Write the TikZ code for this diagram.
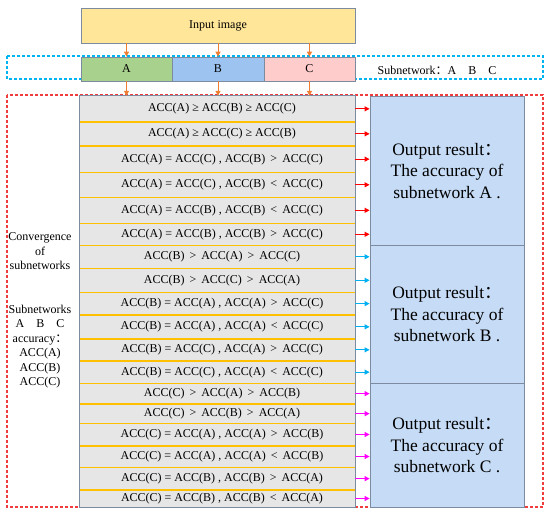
\documentclass[tikz,border=0pt]{standalone}
\usepackage{fontspec}
\setmainfont{Liberation Serif}
\newfontfamily\cjk{Noto Sans CJK SC}
\usetikzlibrary{arrows.meta}
\definecolor{bordc}{HTML}{7D8BA0}
\definecolor{inyel}{HTML}{FFE699}
\definecolor{agreen}{HTML}{A9D18E}
\definecolor{bblue}{HTML}{9DC3F0}
\definecolor{cpink}{HTML}{FFCCCC}
\definecolor{rowgray}{HTML}{E7E6E6}
\definecolor{lineor}{HTML}{FFC000}
\definecolor{outblue}{HTML}{C6DBF5}
\definecolor{arror}{HTML}{ED7D31}
\definecolor{dashblue}{HTML}{00B4F0}
\definecolor{dashred}{HTML}{F03C3C}
\definecolor{arrred}{HTML}{FF0000}
\definecolor{arrcyan}{HTML}{00B0F0}
\definecolor{arrmag}{HTML}{FF00FF}
\newcommand{\fc}{{\cjk ：}}
\newcommand{\rt}[1]{\hspace*{9pt}#1}
\tikzset{
  box/.style={draw=bordc, line width=0.8pt, inner sep=0pt, font=\fontsize{12}{14}\selectfont},
  rowbox/.style={fill=rowgray, inner sep=0pt, minimum width=275pt, font=\fontsize{12}{14}\selectfont},
  outbox/.style={draw=bordc, line width=0.8pt, fill=outblue, minimum width=154pt, inner sep=0pt, align=center, font=\fontsize{17.5}{21.5}\selectfont},
  oarrow/.style={draw=arror, fill=arror, line width=1pt, -{Triangle[length=5pt,width=5pt]}},
  rarrow/.style={line width=1pt, -{Triangle[length=5pt,width=5pt]}},
  orline/.style={draw=lineor, line width=1.5pt},
  dashbox/.style={line width=1.1pt, dash pattern=on 3pt off 2pt},
  lefttext/.style={align=center, inner sep=0pt, font=\fontsize{12}{14.5}\selectfont}
}
\begin{document}
\begin{tikzpicture}[x=1pt,y=-1pt]
\useasboundingbox (0,0) rectangle (550,518);
% dashed frames
\draw[dashbox, color=dashblue] (7,56) rectangle (543,79);
\draw[dashbox, color=dashred] (7,95) rectangle (543,507);
% input
\node[box, fill=inyel, minimum width=274pt, minimum height=35pt] (in) at (218,25.5) {Input image};
\node[box, fill=agreen, minimum width=91pt, minimum height=24pt] (A) at (126.5,69) {A};
\node[box, fill=bblue, minimum width=92pt, minimum height=24pt] (B) at (218,69) {B};
\node[box, fill=cpink, minimum width=91pt, minimum height=24pt] (C) at (309.5,69) {C};
\node[font=\fontsize{12}{14}\selectfont, inner sep=0pt] (lbl) at (437,70) {Subnetwork\fc A\quad B\quad C};
% rows
\node[rowbox, minimum height=25.7pt] (r1) at (217.5,108.85) {\rt{ACC(A) ≥ ACC(B) ≥ ACC(C)}};
\node[rowbox, minimum height=24.3pt] (r2) at (217.5,133.85) {\rt{ACC(A) ≥ ACC(C) ≥ ACC(B)}};
\node[rowbox, minimum height=26.3pt] (r3) at (217.5,159.15) {\rt{ACC(A) = ACC(C) , ACC(B) \,>\, ACC(C)}};
\node[rowbox, minimum height=25pt] (r4) at (217.5,184.8) {\rt{ACC(A) = ACC(C) , ACC(B) \,<\, ACC(C)}};
\node[rowbox, minimum height=26pt] (r5) at (217.5,210.3) {\rt{ACC(A) = ACC(B) , ACC(B) \,<\, ACC(C)}};
\node[rowbox, minimum height=22pt] (r6) at (217.5,234.3) {\rt{ACC(A) = ACC(B) , ACC(B) \,>\, ACC(C)}};
\node[rowbox, minimum height=23pt] (r7) at (217.5,256.8) {\rt{ACC(B) \,>\, ACC(A) \,>\, ACC(C)}};
\node[rowbox, minimum height=24pt] (r8) at (217.5,280.3) {\rt{ACC(B) \,>\, ACC(C) \,>\, ACC(A)}};
\node[rowbox, minimum height=22.7pt] (r9) at (217.5,303.65) {\rt{ACC(B) = ACC(A) , ACC(A) \,>\, ACC(C)}};
\node[rowbox, minimum height=23.7pt] (r10) at (217.5,326.85) {\rt{ACC(B) = ACC(A) , ACC(A) \,<\, ACC(C)}};
\node[rowbox, minimum height=22.3pt] (r11) at (217.5,349.85) {\rt{ACC(B) = ACC(C) , ACC(A) \,>\, ACC(C)}};
\node[rowbox, minimum height=22.3pt] (r12) at (217.5,372.15) {\rt{ACC(B) = ACC(C) , ACC(A) \,<\, ACC(C)}};
\node[rowbox, minimum height=20.7pt] (r13) at (217.5,393.65) {\rt{ACC(C) \,>\, ACC(A) \,>\, ACC(B)}};
\node[rowbox, minimum height=19.3pt] (r14) at (217.5,413.65) {\rt{ACC(C) \,>\, ACC(B) \,>\, ACC(A)}};
\node[rowbox, minimum height=22.4pt] (r15) at (217.5,434.5) {\rt{ACC(C) = ACC(A) , ACC(A) \,>\, ACC(B)}};
\node[rowbox, minimum height=21.6pt] (r16) at (217.5,456.5) {\rt{ACC(C) = ACC(A) , ACC(A) \,<\, ACC(B)}};
\node[rowbox, minimum height=22.7pt] (r17) at (217.5,478.65) {\rt{ACC(C) = ACC(B) , ACC(B) \,>\, ACC(A)}};
\node[rowbox, minimum height=17pt] (r18) at (217.5,498.5) {\rt{ACC(C) = ACC(B) , ACC(B) \,<\, ACC(A)}};
\foreach \i in {1,...,17} {\draw[orline] (r\i.south west) -- (r\i.south east);}
\draw[draw=bordc, line width=0.8pt] (r1.north west) rectangle (r18.south east);
% outputs
\node[outbox, minimum height=149.3pt] (oA) at (447,170.65) {Output result\fc\\The accuracy of\\subnetwork A .};
\node[outbox, minimum height=138pt] (oB) at (447,314.3) {Output result\fc\\The accuracy of\\subnetwork B .};
\node[outbox, minimum height=124pt] (oC) at (447,445.3) {Output result\fc\\The accuracy of\\subnetwork C .};
% orange arrows
\draw[oarrow] (in.south -| A) -- (A.north);
\draw[oarrow] (in.south -| B) -- (B.north);
\draw[oarrow] (in.south -| C) -- (C.north);
\draw[oarrow] (A.south) -- (A.south |- r1.north);
\draw[oarrow] (B.south) -- (B.south |- r1.north);
\draw[oarrow] (C.south) -- (C.south |- r1.north);
% row arrows
\foreach \i in {1,...,6} {\draw[rarrow, draw=arrred, fill=arrred] (r\i.east) -- (r\i.east -| oA.west);}
\foreach \i in {7,...,12} {\draw[rarrow, draw=arrcyan, fill=arrcyan] (r\i.east) -- (r\i.east -| oB.west);}
\foreach \i in {13,...,18} {\draw[rarrow, draw=arrmag, fill=arrmag] (r\i.east) -- (r\i.east -| oC.west);}
% left text
\node[lefttext] (conv) at (40,251.3) {Convergence\\of\\subnetworks};
\node[lefttext] (acc) at (40,346.5) {Subnetworks\\A\quad B\quad C\\accuracy\fc\\ACC(A)\\ACC(B)\\ACC(C)};
\end{tikzpicture}
\end{document}
